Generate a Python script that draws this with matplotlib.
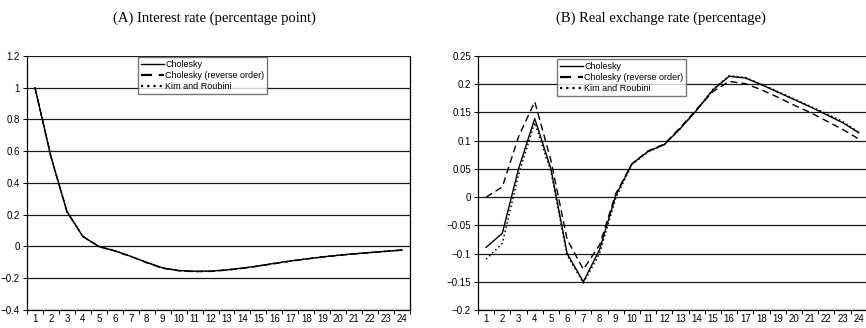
import matplotlib
matplotlib.use("Agg")
import matplotlib.pyplot as plt
from matplotlib.ticker import FuncFormatter

periods = list(range(1, 25))

# (A) Interest rate, percentage point
rate_chol = [1.0, 0.565, 0.22, 0.063, 0.0, -0.027, -0.062, -0.1, -0.135, -0.151, -0.156, -0.155,
             -0.147, -0.136, -0.122, -0.106, -0.091, -0.078, -0.066, -0.055, -0.046, -0.038, -0.03, -0.022]
rate_rev = [1.0, 0.565, 0.22, 0.063, 0.0, -0.028, -0.063, -0.102, -0.137, -0.153, -0.158, -0.157,
            -0.149, -0.138, -0.124, -0.108, -0.093, -0.079, -0.067, -0.056, -0.047, -0.039, -0.031, -0.023]
rate_kr = [1.0, 0.565, 0.22, 0.063, 0.0, -0.027, -0.062, -0.101, -0.136, -0.152, -0.157, -0.156,
           -0.148, -0.137, -0.123, -0.107, -0.092, -0.078, -0.066, -0.055, -0.046, -0.038, -0.03, -0.022]

# (B) Real exchange rate, percentage
rer_chol = [-0.089, -0.064, 0.05, 0.139, 0.05, -0.1, -0.15, -0.093, 0.003, 0.059, 0.081, 0.093,
            0.122, 0.154, 0.19, 0.214, 0.211, 0.199, 0.186, 0.173, 0.16, 0.146, 0.132, 0.114]
rer_rev = [0.0, 0.018, 0.107, 0.169, 0.065, -0.075, -0.128, -0.085, 0.006, 0.059, 0.082, 0.094,
           0.124, 0.156, 0.187, 0.205, 0.201, 0.19, 0.177, 0.163, 0.15, 0.135, 0.12, 0.103]
rer_kr = [-0.11, -0.082, 0.04, 0.132, 0.045, -0.103, -0.152, -0.1, -0.002, 0.058, 0.08, 0.093,
          0.122, 0.155, 0.191, 0.215, 0.212, 0.2, 0.187, 0.174, 0.161, 0.148, 0.134, 0.115]

labels = ['Cholesky', 'Cholesky (reverse order)', 'Kim and Roubini']
titles = ['(A) Interest rate (percentage point)', '(B) Real exchange rate (percentage)']

fig = plt.figure(figsize=(8.66, 3.28), dpi=100)
axA = fig.add_axes([0.0312, 0.0549, 0.4423, 0.7744])
axB = fig.add_axes([0.552, 0.0549, 0.449, 0.7744])

tick_font = 'Liberation Sans'


def style(ax, lo, hi, step):
    ax.set_xlim(0.5, 24.5)
    ax.set_ylim(lo, hi)
    n = int(round((hi - lo) / step))
    ax.set_yticks([lo + i * step for i in range(n + 1)])
    ax.yaxis.set_major_formatter(FuncFormatter(lambda v, p: ('%g' % round(v, 3)).replace('-', '\u2212')))
    ax.set_xticks(periods)
    ax.set_xticks([p - 0.5 for p in periods] + [24.5], minor=True)
    ax.tick_params(axis='x', which='major', length=0, pad=3, labelsize=7)
    ax.tick_params(axis='x', which='minor', length=3, width=0.7, direction='out')
    ax.tick_params(axis='y', length=3, width=0.7, pad=2, labelsize=7)
    for lab in ax.get_xticklabels() + ax.get_yticklabels():
        lab.set_fontfamily(tick_font)
    ax.grid(axis='y', color='#1a1a1a', linewidth=0.9)
    ax.set_axisbelow(True)
    ax.spines['top'].set_visible(False)
    for s in ['left', 'bottom', 'right']:
        ax.spines[s].set_linewidth(0.9)


def draw(ax, a, b, c, anchor):
    ax.plot(periods, a, color='black', linewidth=1.0, linestyle='-', label=labels[0])
    ax.plot(periods, b, color='black', linewidth=1.0, linestyle=(0, (5, 3)), label=labels[1])
    ax.plot(periods, c, color='black', linewidth=1.1, linestyle=(0, (1, 1.8)), label=labels[2])
    leg = ax.legend(loc='upper left', bbox_to_anchor=anchor, frameon=True,
                    fancybox=False, handlelength=2.6, handletextpad=0.1, borderpad=0.3,
                    labelspacing=0.25, borderaxespad=0, prop={'family': tick_font, 'size': 6.5})
    leg.get_frame().set_edgecolor('#555555')
    leg.get_frame().set_linewidth(1.0)
    for h in leg.get_lines()[1:]:
        h.set_linewidth(1.6)


style(axA, -0.4, 1.2, 0.2)
draw(axA, rate_chol, rate_rev, rate_kr, (0.29, 0.996))

style(axB, -0.2, 0.25, 0.05)
axB.spines['right'].set_visible(False)
draw(axB, rer_chol, rer_rev, rer_kr, (0.203, 0.988))

fig.text(0.248, 0.945, titles[0], ha='center', va='center', fontsize=10.5, family='Liberation Serif')
fig.text(0.763, 0.945, titles[1], ha='center', va='center', fontsize=10.5, family='Liberation Serif')

fig.savefig('out.png', dpi=100)
